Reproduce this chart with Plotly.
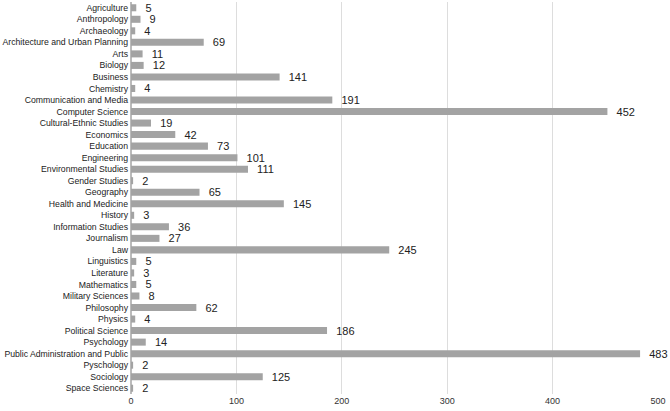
import plotly.graph_objects as go

categories = ["Agriculture", "Anthropology", "Archaeology", "Architecture and Urban Planning", "Arts",
              "Biology", "Business", "Chemistry", "Communication and Media", "Computer Science",
              "Cultural-Ethnic Studies", "Economics", "Education", "Engineering", "Environmental Studies",
              "Gender Studies", "Geography", "Health and Medicine", "History", "Information Studies",
              "Journalism", "Law", "Linguistics", "Literature", "Mathematics", "Military Sciences",
              "Philosophy", "Physics", "Political Science", "Psychology", "Public Administration and Public",
              "Pyschology", "Sociology", "Space Sciences"]
values = [5, 9, 4, 69, 11, 12, 141, 4, 191, 452, 19, 42, 73, 101, 111, 2, 65, 145, 3, 36, 27, 245,
          5, 3, 5, 8, 62, 4, 186, 14, 483, 2, 125, 2]
x_ticks = [0, 100, 200, 300, 400, 500]

fig = go.Figure(go.Bar(
    x=values, y=categories, orientation="h",
    marker=dict(color="#a3a3a3", line=dict(width=0)),
    text=["\u00a0\u00a0" + str(v) for v in values],
    textposition="outside", cliponaxis=False, constraintext="none",
    textfont=dict(family="Liberation Sans, Arial", size=11, color="#222222"),
))
fig.update_layout(
    width=670, height=411,
    margin=dict(l=131, r=12, t=2, b=17),
    paper_bgcolor="white", plot_bgcolor="white",
    bargap=0.39, showlegend=False,
    font=dict(family="Liberation Sans, Arial", size=9, color="#222222"),
)
fig.update_xaxes(range=[0, 500], tickvals=x_ticks, showgrid=True, gridcolor="#dddddd", gridwidth=1,
                 zeroline=True, zerolinecolor="#bbbbbb", ticks="", tickfont=dict(size=9, color="#333333"),
                 automargin=False)
fig.update_yaxes(autorange="reversed", ticks="", tickfont=dict(size=8.7), ticklabelstandoff=2,
                 automargin=False)
fig.write_html("out.html", config={"displayModeBar": False},
               post_script="document.body.style.margin='0';document.body.style.overflow='hidden';")
